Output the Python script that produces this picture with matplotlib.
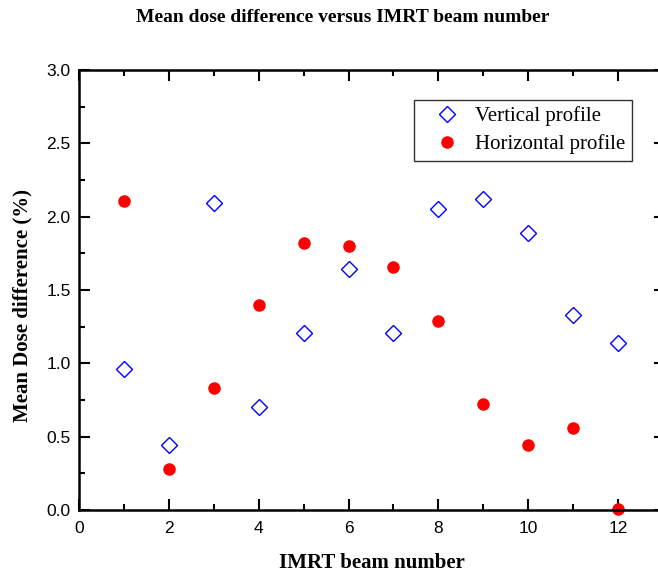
import matplotlib
matplotlib.use("Agg")
import matplotlib.pyplot as plt
from matplotlib.ticker import MultipleLocator

beam = [1, 2, 3, 4, 5, 6, 7, 8, 9, 10, 11, 12]
vertical = [0.96, 0.44, 2.09, 0.70, 1.21, 1.64, 1.21, 2.05, 2.12, 1.89, 1.33, 1.14]
horizontal = [2.11, 0.28, 0.83, 1.40, 1.82, 1.80, 1.66, 1.29, 0.72, 0.44, 0.56, 0.01]

serif = ["Liberation Serif", "DejaVu Serif"]
sans = ["Liberation Sans", "DejaVu Sans"]

fig = plt.figure(figsize=(6.58, 5.74), dpi=100)
ax_w = 586
ax = fig.add_axes([79 / 658, 1 - 510 / 574, ax_w / 658, 440 / 574])

ax.plot(beam, vertical, linestyle="none", marker="D", markersize=8.5,
        markerfacecolor="none", markeredgecolor="#0000ff", markeredgewidth=1.0,
        label="Vertical profile", clip_on=False)
ax.plot(beam, horizontal, linestyle="none", marker="o", markersize=8.0,
        markerfacecolor="#ff0000", markeredgecolor="#ff0000",
        label="Horizontal profile", clip_on=False)

ax.set_xlim(0, 13 * ax_w / 584)
ax.set_ylim(0, 3.0)
ax.xaxis.set_major_locator(MultipleLocator(2))
ax.xaxis.set_minor_locator(MultipleLocator(1))
ax.yaxis.set_major_locator(MultipleLocator(0.5))
ax.yaxis.set_minor_locator(MultipleLocator(0.25))
ax.yaxis.set_major_formatter(plt.FuncFormatter(lambda v, p: f"{v:.1f}"))

ax.tick_params(which="both", direction="in", top=True, right=True, width=1.5)
ax.tick_params(which="major", length=8, labelsize=12.5)
ax.tick_params(axis="x", which="major", pad=8)
ax.tick_params(axis="y", which="major", pad=6)
ax.tick_params(which="minor", length=4)
for lbl in ax.get_xticklabels() + ax.get_yticklabels():
    lbl.set_family(sans)
for sp in ax.spines.values():
    sp.set_linewidth(1.8)

ax.set_xlabel("IMRT beam number", fontsize=15, fontweight="bold",
              family=serif, labelpad=12)
fig.text(22 / 658, 1 - 305 / 574, "Mean Dose difference (%)", rotation=90,
         ha="center", va="center", fontsize=15, fontweight="bold", family=serif)
fig.text(0.5 + 14 / 658, 1 - 17 / 574, "Mean dose difference versus IMRT beam number",
         ha="center", va="center", fontsize=14, fontweight="bold", family=serif)

leg = ax.legend(loc="upper right",
                bbox_to_anchor=((632 - 79) / ax_w, 1 - 30 / 440),
                prop={"family": serif, "size": 15}, frameon=True, fancybox=False,
                edgecolor="black", handletextpad=0.1, borderpad=0.3,
                labelspacing=0.4, handlelength=2.55, borderaxespad=0)
leg.get_frame().set_linewidth(1.0)

fig.savefig("out.png", dpi=100)
